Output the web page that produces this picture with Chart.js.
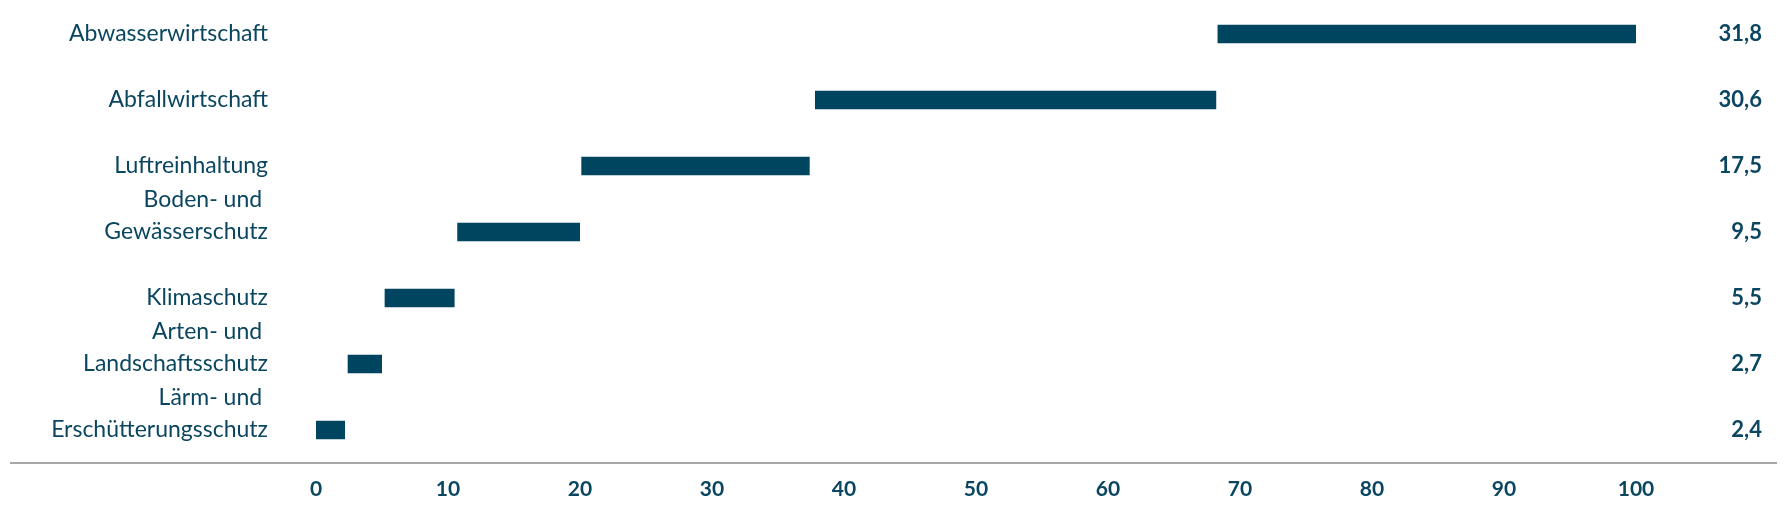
<!DOCTYPE html>
<html>
<head>
<meta charset="utf-8">
<script src="https://cdn.jsdelivr.net/npm/chart.js@4/dist/chart.umd.min.js"></script>
<style>
  html, body { margin: 0; padding: 0; background: #fff; }
  #wrap { width: 1790px; height: 520px; position: relative; }
</style>
</head>
<body>
<div id="wrap"><canvas id="chart"></canvas></div>
<script>
// Umweltschutzausgaben nach Bereichen (kumuliert, Anteile in %)
const categories = [
    ['Abwasserwirtschaft'],
    ['Abfallwirtschaft'],
    ['Luftreinhaltung'],
    ['Boden- und ', 'Gewässerschutz', ''],
    ['Klimaschutz'],
    ['Arten- und ', 'Landschaftsschutz', ''],
    ['Lärm- und ', 'Erschütterungsschutz', '']
];
const shares = ['31,8', '30,6', '17,5', '9,5', '5,5', '2,7', '2,4'];
const barStart = [68.3, 37.8, 20.1, 10.7, 5.2, 2.4, 0];
const barEnd = [100, 68.2, 37.4, 20.0, 10.5, 5.0, 2.2];
const xTicks = [0, 10, 20, 30, 40, 50, 60, 70, 80, 90, 100];

const DARK = '#004560';
const TEXT = '#0b4661';

// durchgehende Grundlinie unter den Balken
const baseline = {
    id: 'baseline',
    afterDraw(chart) {
        const ctx = chart.ctx;
        const y = chart.chartArea.bottom;
        ctx.save();
        ctx.strokeStyle = '#8a8a8a';
        ctx.lineWidth = 1.5;
        ctx.beginPath();
        ctx.moveTo(10, y);
        ctx.lineTo(chart.width - 13, y);
        ctx.stroke();
        ctx.restore();
    }
};

function noPad(s) {
    s.paddingTop = 0;
    s.paddingBottom = 0;
    s.paddingLeft = 0;
    s.paddingRight = 0;
}

new Chart(document.getElementById('chart').getContext('2d'), {
    type: 'bar',
    data: {
        labels: categories,
        datasets: [{
            data: barStart.map((s, i) => [s, barEnd[i]]),
            backgroundColor: DARK,
            borderWidth: 0,
            categoryPercentage: 1,
            barPercentage: 0.28
        }]
    },
    options: {
        indexAxis: 'y',
        responsive: true,
        maintainAspectRatio: false,
        animation: false,
        layout: { padding: { left: 0, right: 28, top: 1, bottom: 0 } },
        plugins: {
            legend: { display: false },
            tooltip: { enabled: false }
        },
        scales: {
            x: {
                min: 0,
                max: 100,
                afterBuildTicks: s => { s.ticks = xTicks.map(v => ({ value: v })); },
                afterFit: s => { s.height = 57; noPad(s); },
                grid: { display: false, drawTicks: false },
                border: { display: false },
                ticks: {
                    padding: 14,
                    autoSkip: false,
                    maxRotation: 0,
                    color: TEXT,
                    font: { family: 'Lato', size: 21, weight: 'bold' }
                }
            },
            y: {
                afterFit: s => { s.width = 316; noPad(s); },
                grid: { display: false, drawTicks: false },
                border: { display: false },
                ticks: {
                    padding: 48,
                    autoSkip: false,
                    color: TEXT,
                    font: { family: 'Lato', size: 23, lineHeight: 1.4 }
                }
            },
            y2: {
                type: 'category',
                position: 'right',
                labels: shares,
                offset: true,
                afterFit: s => { s.width = 126; noPad(s); },
                grid: { display: false, drawTicks: false },
                border: { display: false },
                ticks: {
                    autoSkip: false,
                    crossAlign: 'far',
                    color: TEXT,
                    font: { family: 'Lato', size: 22, weight: 'bold' }
                }
            }
        }
    },
    plugins: [baseline]
});
</script>
</body>
</html>
